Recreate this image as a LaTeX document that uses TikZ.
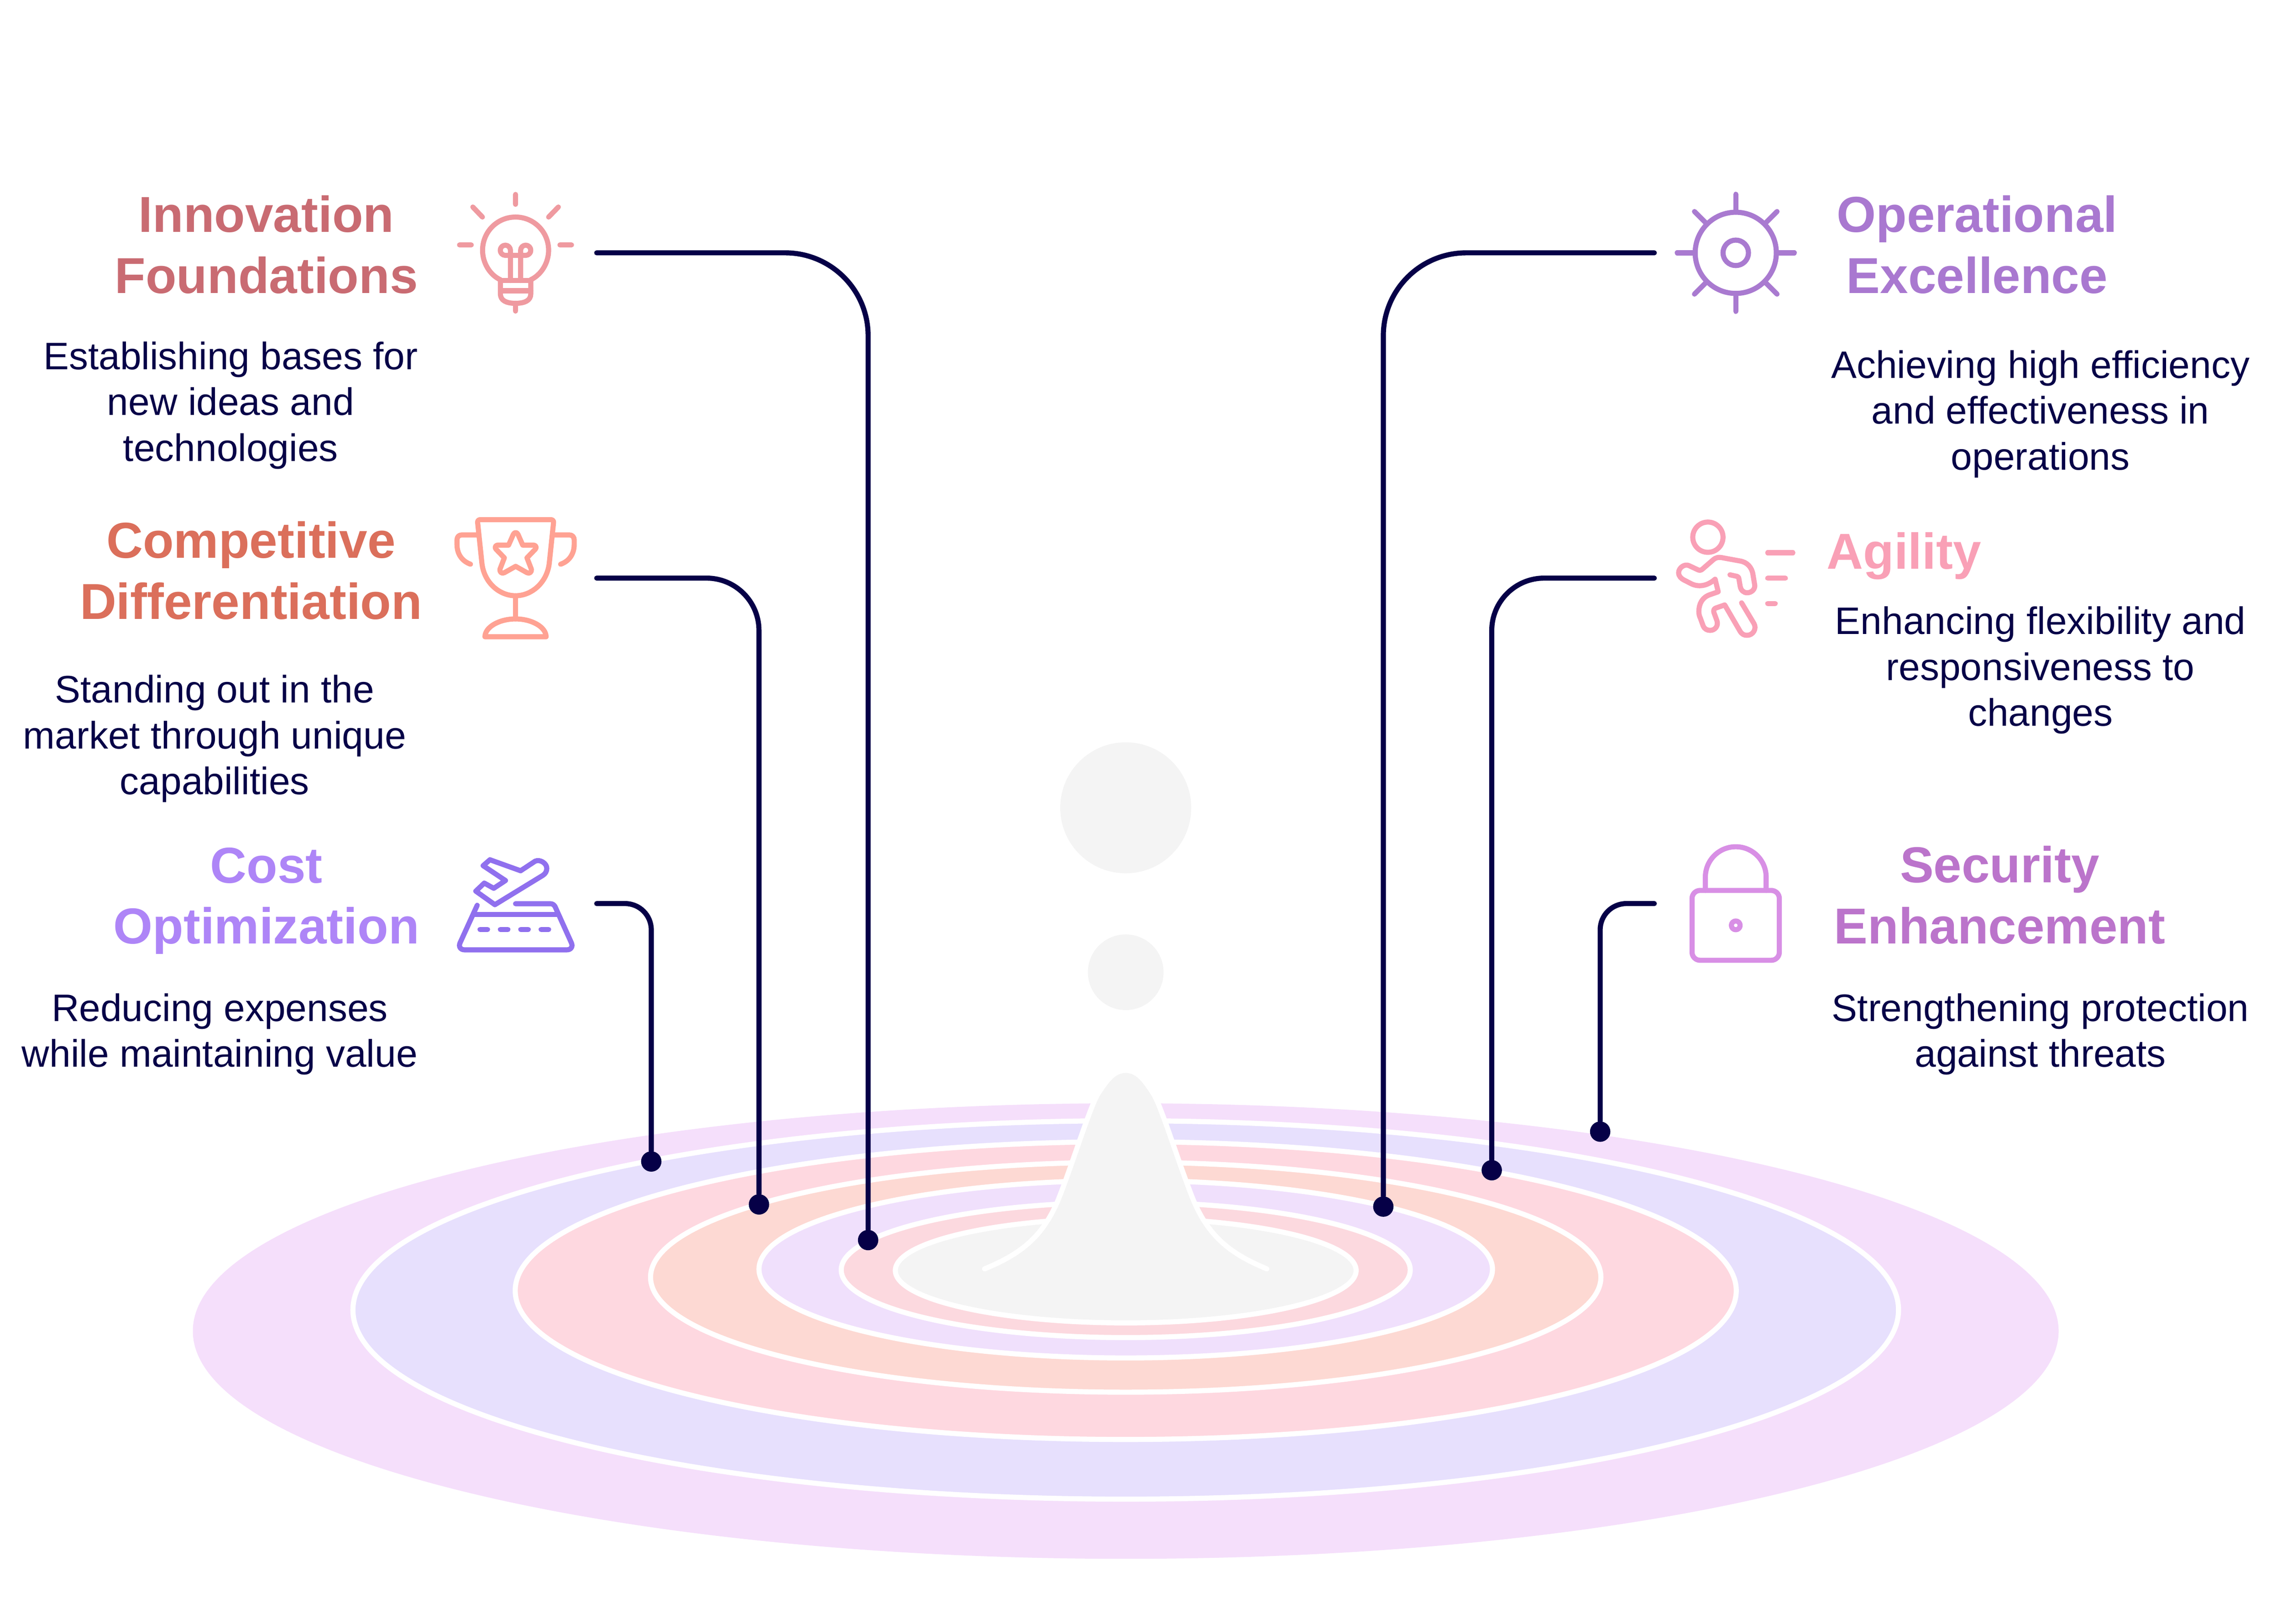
\documentclass[tikz,border=0pt]{standalone}
\usepackage{fontspec}
\setmainfont{Liberation Sans}
\usepackage{xcolor}
\usetikzlibrary{positioning}

\definecolor{navy}{HTML}{060047}
\definecolor{dropgray}{HTML}{F4F4F4}
\definecolor{ringone}{HTML}{F5DFFB}
\definecolor{ringtwo}{HTML}{E7E0FD}
\definecolor{ringthree}{HTML}{FED8E0}
\definecolor{ringfour}{HTML}{FDD9D3}
\definecolor{ringfive}{HTML}{F0E0FC}
\definecolor{ringsix}{HTML}{FCD9DF}
\definecolor{innocolor}{HTML}{C96B72}
\definecolor{compcolor}{HTML}{DB6F5B}
\definecolor{costcolor}{HTML}{AE85F7}
\definecolor{operacolor}{HTML}{A978D0}
\definecolor{agilcolor}{HTML}{F9A0B6}
\definecolor{seccolor}{HTML}{BB74CB}
\definecolor{innoicon}{HTML}{EF9AA0}
\definecolor{compicon}{HTML}{FFA293}
\definecolor{costicon}{HTML}{9070EE}
\definecolor{operaicon}{HTML}{A97AD0}
\definecolor{agilicon}{HTML}{F9A0B6}
\definecolor{secicon}{HTML}{D88FE5}

\tikzset{
    heading/.style={align=center, inner sep=0pt, font=\fontsize{34.7}{42}\selectfont\bfseries},
    bodytext/.style={align=center, inner sep=0pt, text=navy, font=\fontsize{26.3}{31.5}\selectfont},
    ripple/.style={draw=white, line width=3.5pt},
    linkline/.style={draw=navy, line width=3.5pt, line cap=round},
    dotmark/.style={circle, fill=navy, inner sep=0pt, minimum size=14pt},
    iconline/.style={line width=3.5pt, line cap=round, line join=round},
    cropped/.style 2 args={shift={(#1/3.431,#2/3.431)}, x=.09715pt, y=-.09715pt},
}

\begin{document}
\begin{tikzpicture}[x=1pt, y=-1pt]
    \useasboundingbox (0,0) rectangle (1568,1115.7);

    % water
    \fill[ringone] (773.5,914.5) ellipse [x radius=641, y radius=156.5];
    \draw[ripple, fill=ringtwo] (773.5,900) ellipse [x radius=531, y radius=130];
    \draw[ripple, fill=ringthree] (773.5,886.7) ellipse [x radius=419.5, y radius=102.3];
    \draw[ripple, fill=ringfour] (773.5,877.5) ellipse [x radius=326.5, y radius=79];
    \draw[ripple, fill=ringfive] (773.5,872) ellipse [x radius=252, y radius=61];
    \draw[ripple, fill=ringsix] (773.5,872.5) ellipse [x radius=195.5, y radius=46.5];
    \draw[ripple, fill=dropgray] (773.5,872.9) ellipse [x radius=158.3, y radius=36];

    % drops
    \fill[dropgray] (773.5,555) circle [radius=45];
    \fill[dropgray] (773.5,668) circle [radius=26];
    \draw[ripple, line cap=round, fill=dropgray] (676.5,871.8)
        .. controls (700,862) and (716,851) .. (727.2,824.1)
        .. controls (737,799.6) and (749,760) .. (754.6,751.3)
        .. controls (760,743) and (765,735.4) .. (773.5,735.4)
        .. controls (782,735.4) and (787,743) .. (792.4,751.3)
        .. controls (798,760) and (810,799.6) .. (819.8,824.1)
        .. controls (831,851) and (847,862) .. (870.5,871.8);

    % texts
    \node[heading, text=innocolor] (innotitle) at (183,168) {Innovation\\Foundations};
    \node[bodytext] (innotext) at (158.5,278.5) {Establishing bases for\\new ideas and\\technologies};
    \node[heading, text=compcolor] (comptitle) at (172.5,392) {Competitive\\Differentiation};
    \node[bodytext] (comptext) at (147.5,507.5) {Standing out in the\\market through unique\\capabilities};
    \node[heading, text=costcolor] (costtitle) at (183,619) {Cost\\Optimization};
    \node[bodytext] (costtext) at (151,710.5) {Reducing expenses\\while maintaining value};
    \node[heading, text=operacolor] (operatitle) at (1358.5,168) {Operational\\Excellence};
    \node[bodytext] (operatext) at (1402,284.5) {Achieving high efficiency\\and effectiveness in\\operations};
    \node[heading, text=agilcolor, anchor=west] (agiltitle) at (1255,382) {Agility};
    \node[bodytext] (agiltext) at (1402,460.5) {Enhancing flexibility and\\responsiveness to\\changes};
    \node[heading, text=seccolor] (sectitle) at (1374,615) {Security\\Enhancement};
    \node[bodytext] (sectext) at (1402,710.5) {Strengthening protection\\against threats};

    % connectors
    \coordinate (innostart) at (410,173.7);
    \coordinate (compstart) at (410,397.2);
    \coordinate (coststart) at (410,620.8);
    \coordinate (operastart) at (1136.7,173.7);
    \coordinate (agilstart) at (1136.7,397.2);
    \coordinate (secstart) at (1136.7,620.8);
    \node[dotmark] (innodot) at (596.5,852) {};
    \node[dotmark] (compdot) at (521.5,827.5) {};
    \node[dotmark] (costdot) at (447.5,798) {};
    \node[dotmark] (operadot) at (950.5,829) {};
    \node[dotmark] (agildot) at (1025,804) {};
    \node[dotmark] (secdot) at (1099.5,777.5) {};
    \draw[linkline, rounded corners=57pt] (innostart) -| (innodot);
    \draw[linkline, rounded corners=36pt] (compstart) -| (compdot);
    \draw[linkline, rounded corners=18pt] (coststart) -| (costdot);
    \draw[linkline, rounded corners=57pt] (operastart) -| (operadot);
    \draw[linkline, rounded corners=36pt] (agilstart) -| (agildot);
    \draw[linkline, rounded corners=18pt] (secstart) -| (secdot);

    % bulb
    \begin{scope}[cropped={1000}{400}, iconline, draw=innoicon]
        \draw (646,175) -- (646,245) (344,264) -- (412,335) (949,264) -- (880,335)
            (250,532) -- (333,532) (960,532) -- (1042,532);
        \draw (540,779) .. controls (465,745) and (413,660) .. (413,570)
            .. controls (413,440) and (516,335) .. (646,335)
            .. controls (776,335) and (880,440) .. (880,570)
            .. controls (880,660) and (827,745) .. (752,779);
        \draw (539,784) -- (754,784) (539,856) -- (754,856) (646,945) -- (646,1000);
        \draw (539,784) -- (539,878) .. controls (539,925) and (580,945) .. (646,945)
            .. controls (712,945) and (754,925) .. (754,878) -- (754,784);
        \draw (610,784) -- (610,570) arc (0:-270:36) -- (718,606) arc (90:-180:36) -- (682,784);
    \end{scope}

    % trophy
    \begin{scope}[cropped={1000}{1180}, iconline, draw=compicon]
        \draw (395,135) -- (897,135) .. controls (910,135) and (916,145) .. (915,155)
            -- (885,440) .. controls (870,580) and (760,673) .. (646,673)
            .. controls (532,673) and (422,580) .. (408,440) -- (378,155)
            .. controls (377,145) and (383,135) .. (395,135) -- cycle;
        \draw (380,243) -- (265,243) .. controls (245,243) and (232,258) .. (232,278) -- (232,310)
            .. controls (232,380) and (270,430) .. (328,450);
        \draw (915,243) -- (1028,243) .. controls (1048,243) and (1061,258) .. (1061,278) -- (1061,310)
            .. controls (1061,380) and (1023,430) .. (965,450);
        \draw (646,673) -- (646,837);
        \draw (430,963) .. controls (430,895) and (530,837) .. (646,837)
            .. controls (762,837) and (862,895) .. (862,963) -- cycle;
        \draw (597,315) -- (630,240) .. controls (637,222) and (657,222) .. (664,240) -- (697,315)
            -- (775,315) .. controls (790,315) and (797,333) .. (786,344) -- (727,405)
            -- (758,485) .. controls (762,505) and (745,520) .. (727,510) -- (647,465)
            -- (567,510) .. controls (549,520) and (532,505) .. (536,485) -- (567,405)
            -- (508,344) .. controls (497,333) and (504,315) .. (519,315) -- cycle;
    \end{scope}

    % plane and runway
    \begin{scope}[cropped={1000}{1980}, iconline, draw=costicon]
        \draw (465,140) -- (682,218) -- (785,150) .. controls (820,135) and (867,165) .. (867,200)
            .. controls (867,225) and (855,240) .. (840,250) -- (500,458) -- (365,362) -- (425,305)
            -- (492,342) -- (575,287) -- (417,182) -- cycle;
        \draw (375,462) -- (255,725) .. controls (240,755) and (258,777) .. (285,777) -- (1010,777)
            .. controls (1037,777) and (1055,755) .. (1040,725) -- (925,470)
            .. controls (915,455) and (905,451) .. (890,451) -- (646,451);
        \draw (350,526) -- (945,526);
        \draw (395,633) -- (448,633) (539,633) -- (592,633) (683,633) -- (736,633) (827,633) -- (880,633);
    \end{scope}

    % gear
    \begin{scope}[cropped={3900}{400}, iconline, draw=operaicon]
        \draw (576,588) circle [radius=287];
        \draw (576,588) circle [radius=90];
        \draw (576,174) -- (576,300) (576,876) -- (576,1002) (162,588) -- (288,588) (864,588) -- (990,588);
        \draw (284,296) -- (362,374) (868,296) -- (790,374) (284,880) -- (362,802) (868,880) -- (790,802);
    \end{scope}

    % runner
    \begin{scope}[cropped={3900}{1180}, iconline, draw=agilicon]
        \draw (379,259) circle [radius=107];
        \draw (802,369) -- (980,369) (802,549) -- (927,549) (802,728) -- (855,728);
        \draw (535,525) -- (585,536) .. controls (595,538) and (597,545) .. (598,552) -- (607,605)
            .. controls (612,635) and (632,652) .. (656,652) .. controls (690,652) and (714,625) .. (710,597)
            -- (698,525) .. controls (690,470) and (655,435) .. (605,427) -- (485,405)
            .. controls (455,398) and (435,402) .. (415,420) -- (340,485)
            .. controls (328,495) and (318,495) .. (305,488) -- (245,460)
            .. controls (215,445) and (172,475) .. (172,510) .. controls (172,535) and (190,552) .. (210,562)
            -- (265,590) .. controls (320,615) and (380,600) .. (430,556) -- (452,645) -- (395,665)
            .. controls (335,685) and (315,735) .. (315,785) .. controls (315,805) and (320,820) .. (325,830)
            -- (345,885) .. controls (355,910) and (375,918) .. (395,918)
            .. controls (430,918) and (455,885) .. (443,850) -- (421,790)
            .. controls (418,775) and (422,765) .. (435,760) -- (498,738) -- (607,925)
            .. controls (620,945) and (635,953) .. (655,953) .. controls (700,953) and (725,905) .. (705,870)
            -- (617,723);
    \end{scope}

    % lock
    \begin{scope}[cropped={3900}{1960}, iconline, draw=secicon]
        \draw[rounded corners=5.5pt] (267,417) rectangle (884,911);
        \draw (361,417) -- (361,323) arc (180:360:215) -- (791,417);
        \draw (576,664) circle [radius=31];
    \end{scope}
\end{tikzpicture}
\end{document}
